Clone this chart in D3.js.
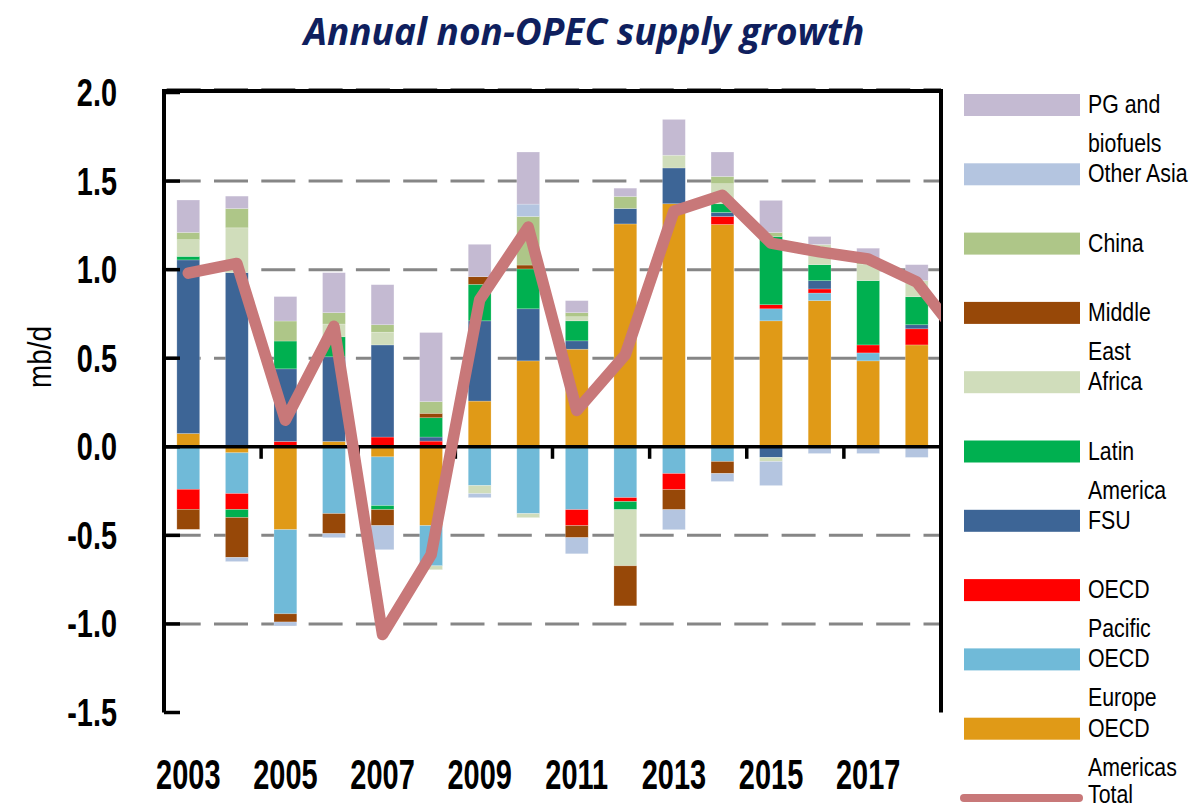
<!DOCTYPE html>
<html><head><meta charset="utf-8">
<script src="https://cdn.jsdelivr.net/npm/d3@7"></script>
<style>body{margin:0;background:#fff}</style>
</head><body>
<svg id="chart" width="1192" height="809"></svg>
<script>
// ---------------- DATA ----------------
const years = [2003,2004,2005,2006,2007,2008,2009,2010,2011,2012,2013,2014,2015,2016,2017,2018];
const lineYears = [2003,2004,2005,2006,2007,2008,2009,2010,2011,2012,2013,2014,2015,2016,2017,2018,2019];
const xLabelYears = [2003,2005,2007,2009,2011,2013,2015,2017];
const yTickValues = [-1.5,-1.0,-0.5,0.0,0.5,1.0,1.5,2.0];
const gridValues = [-1.0,-0.5,0.5,1.0,1.5,2.0];

const oecdAmericas = [0.075,-0.034,-0.468,0.03,-0.057,-0.445,0.258,0.485,0.551,1.258,1.372,1.255,0.711,0.825,0.485,0.575];
const oecdEurope   = [-0.24,-0.23,-0.475,-0.377,-0.275,-0.227,-0.219,-0.377,-0.355,-0.287,-0.151,-0.083,0.068,0.043,0.045,0];
const oecdPacific  = [-0.113,-0.09,0.03,0,0.055,0.032,0,0,-0.09,-0.022,-0.091,0.045,0.023,0.023,0.045,0.091];
const fsu          = [0.98,0.983,0.41,0.478,0.52,0.023,0.453,0.294,0.047,0.087,0.202,0.023,-0.06,0.047,0,0.023];
const latinAmerica = [0.02,-0.045,0.157,0.113,-0.023,0.109,0.206,0.225,0.113,-0.046,0,0.049,0.385,0.09,0.363,0.158];
const africa       = [0.094,0.253,0,0.072,0.072,-0.022,-0.045,-0.023,0.023,-0.317,0.072,0.113,-0.023,0.114,0.094,0.091];
const middleEast   = [-0.113,-0.226,-0.046,-0.113,-0.09,0.025,0.043,0.022,-0.068,-0.226,-0.113,-0.068,0,0,0,0];
const china        = [0.041,0.109,0.113,0.064,0.042,0.066,0,0.274,0.023,0.068,0,0.041,0.022,0,0.019,0];
const otherAsia    = [0,-0.023,-0.022,-0.023,-0.136,0,-0.023,0.07,-0.091,0,-0.113,-0.045,-0.136,-0.038,-0.038,-0.06];
const pgBiofuels   = [0.183,0.07,0.138,0.226,0.226,0.39,0.183,0.294,0.068,0.047,0.202,0.138,0.182,0.045,0.07,0.09];
const total        = [0.98,1.035,0.15,0.68,-1.06,-0.61,0.83,1.24,0.205,0.52,1.33,1.42,1.15,1.1,1.06,0.93,0.58];

const seriesNames = ["OECD Americas","OECD Europe","OECD Pacific","FSU","Latin America","Africa","Middle East","China","Other Asia","PG and biofuels"];
const seriesValues = [oecdAmericas,oecdEurope,oecdPacific,fsu,latinAmerica,africa,middleEast,china,otherAsia,pgBiofuels];
const legendOrder = ["PG and biofuels","Other Asia","China","Middle East","Africa","Latin America","FSU","OECD Pacific","OECD Europe","OECD Americas","Total"];
const legendLines = {
  "PG and biofuels":["PG and","biofuels"], "Other Asia":["Other Asia"], "China":["China"],
  "Middle East":["Middle","East"], "Africa":["Africa"], "Latin America":["Latin","America"],
  "FSU":["FSU"], "OECD Pacific":["OECD","Pacific"], "OECD Europe":["OECD","Europe"],
  "OECD Americas":["OECD","Americas"], "Total":["Total"]
};

// ---------------- STYLE ----------------
const colors = {
  "OECD Americas":"#E09A17","OECD Europe":"#70BAD8","OECD Pacific":"#FF0000","FSU":"#3D6596",
  "Latin America":"#00B050","Africa":"#D0DDBB","Middle East":"#974808","China":"#AEC688",
  "Other Asia":"#B4C5E0","PG and biofuels":"#C4BAD2","Total":"#C87879"
};
const W = 1192, H = 809;
const plot = {left:164, right:941, top:92.5, bottom:712.5};

const svg = d3.select("#chart");
svg.append("rect").attr("width",W).attr("height",H).attr("fill","#fff");

const x = d3.scaleLinear().domain([2002.5, 2018.5]).range([plot.left, plot.right]);
const y = d3.scaleLinear().domain([-1.5, 2.0]).range([plot.bottom, plot.top]);
const step = x(1) - x(0);
const barW = step * 0.47;

// stacked data
const rows = years.map((yr,i) => {
  const r = {year: yr};
  seriesNames.forEach((n,k) => r[n] = seriesValues[k][i]);
  return r;
});
const stack = d3.stack().keys(seriesNames).offset(d3.stackOffsetDiverging);
const stacked = stack(rows);

// clip
svg.append("clipPath").attr("id","plotclip").append("rect")
  .attr("x",plot.left).attr("y",plot.top-10).attr("width",plot.right-plot.left).attr("height",plot.bottom-plot.top+20);

// grid
svg.append("g").selectAll("line").data(gridValues).join("line")
  .attr("x1",plot.left+2.7).attr("x2",plot.right)
  .attr("y1",d=>y(d) - (d===2 ? 3 : 0)).attr("y2",d=>y(d) - (d===2 ? 3 : 0))
  .attr("stroke","#868686").attr("stroke-width",3).attr("stroke-dasharray","34,13.3");

// bars
svg.append("g").selectAll("g").data(stacked).join("g")
  .attr("fill",d=>colors[d.key])
  .selectAll("rect").data(d=>d).join("rect")
  .attr("x",d=>x(d.data.year)-barW/2)
  .attr("width",barW)
  .attr("y",d=>y(Math.max(d[0],d[1])))
  .attr("height",d=>Math.abs(y(d[0])-y(d[1])))
  .attr("stroke","#ffffff").attr("stroke-opacity",0.35).attr("stroke-width",0.6);

// zero line
svg.append("line").attr("x1",plot.left).attr("x2",plot.right).attr("y1",y(0)).attr("y2",y(0))
  .attr("stroke","#000").attr("stroke-width",3.5);
// x ticks every two years at band boundaries
const xTickPos = d3.range(2004.5, 2017, 2);
svg.append("g").selectAll("line").data(xTickPos).join("line")
  .attr("x1",d=>x(d)).attr("x2",d=>x(d)).attr("y1",y(0)).attr("y2",y(0)+12)
  .attr("stroke","#000").attr("stroke-width",3.5);

// frame
const frame = svg.append("g").attr("stroke","#000").attr("stroke-width",4).attr("fill","none");
frame.append("path").attr("d",`M${plot.left},${plot.bottom}V${plot.top-1.5}H${plot.right}V${plot.bottom}`);
// y ticks (inward)
svg.append("g").selectAll("line").data(yTickValues).join("line")
  .attr("x1",plot.left).attr("x2",plot.left+16).attr("y1",d=>y(d)).attr("y2",d=>y(d))
  .attr("stroke","#000").attr("stroke-width",3.5);

// total line
const line = d3.line().x((d,i)=>x(lineYears[i])).y(d=>y(d));
svg.append("path").datum(total).attr("d",line).attr("clip-path","url(#plotclip)")
  .attr("fill","none").attr("stroke",colors.Total).attr("stroke-width",11.5)
  .attr("stroke-linejoin","round").attr("stroke-linecap","round");

// ---------------- TEXT ----------------
const fontNarrow = "'Liberation Sans', Arial, sans-serif";
function ntext(g, tx, ty, str, opts) {
  const t = g.append("text")
    .attr("transform",`translate(${tx},${ty}) scale(${opts.sx},1)`)
    .attr("font-family",fontNarrow).attr("font-size",opts.size)
    .attr("font-weight",opts.weight||"normal").attr("fill",opts.fill||"#000")
    .attr("text-anchor",opts.anchor||"start").text(str);
  return t;
}
const tg = svg.append("g");

// title
tg.append("text").attr("x",584).attr("y",45).attr("text-anchor","middle")
  .attr("font-family","'Open Sans', sans-serif").attr("font-weight","bold").attr("font-style","italic")
  .attr("font-size",37).attr("fill","#0F1F5E").text("Annual non-OPEC supply growth");

// y tick labels
yTickValues.forEach(v => {
  ntext(tg, 117, y(v)+13.5, d3.format(".1f")(v).replace("−","-"), {size:38, sx:0.76, weight:"bold", anchor:"end"});
});
// y axis title
tg.append("text").attr("transform",`translate(51,357) rotate(-90) scale(0.82,1)`)
  .attr("font-family",fontNarrow).attr("font-size",34).attr("text-anchor","middle").text("mb/d");

// x labels
xLabelYears.forEach(yr => {
  ntext(tg, x(yr), 789, String(yr), {size:42, sx:0.69, weight:"bold", anchor:"middle"});
});

// legend
const lg = svg.append("g");
const legTop = 105, legStep = 69.3;
legendOrder.forEach((name,i) => {
  const cy = legTop + i*legStep;
  if (name === "Total") {
    lg.append("line").attr("x1",964).attr("x2",1079).attr("y1",cy).attr("y2",cy)
      .attr("stroke",colors.Total).attr("stroke-width",8).attr("stroke-linecap","round");
  } else {
    lg.append("rect").attr("x",964).attr("y",cy-11).attr("width",116).attr("height",22).attr("fill",colors[name]);
  }
  const off = name === "Total" ? 5 : 8;
  legendLines[name].forEach((ln,j) => {
    ntext(lg, 1088, cy+off+j*39, ln, {size:26, sx:0.82});
  });
});
</script>
</body></html>
